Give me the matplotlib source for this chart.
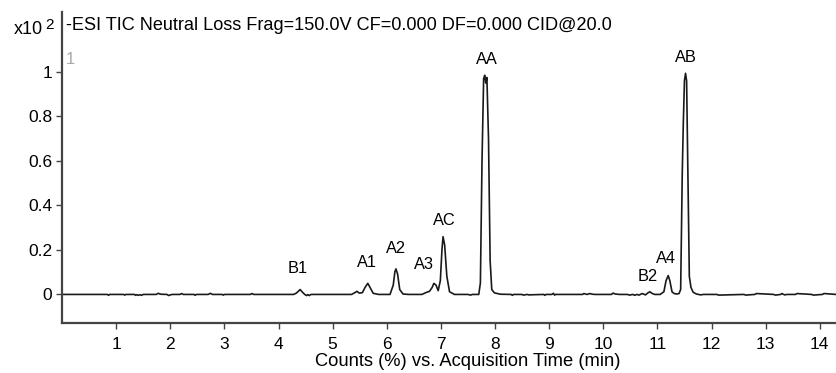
import matplotlib
matplotlib.use("Agg")
import matplotlib.pyplot as plt

plt.rcParams['font.family'] = ['Liberation Sans', 'DejaVu Sans']

# Chromatogram trace (time in min, counts x10^2)
times = [
    0.00, 0.84, 0.86, 0.88, 1.14, 1.16, 1.18, 1.34, 1.36, 1.38, 1.41, 1.44, 1.47, 1.50,
    1.74, 1.78, 1.82, 1.94, 1.97, 2.00, 2.04, 2.18, 2.21, 2.24, 2.44, 2.46, 2.48,
    2.70, 2.74, 2.78, 2.96, 2.98, 3.00, 3.48, 3.51, 3.54,
    4.28, 4.33, 4.40, 4.45, 4.49, 4.52, 4.54, 4.57, 4.59, 4.61,
    5.35, 5.41, 5.45, 5.49, 5.55, 5.60, 5.65, 5.70, 5.75, 5.85,
    6.06, 6.12, 6.15, 6.17, 6.20, 6.24, 6.30, 6.40,
    6.65, 6.74, 6.79, 6.84, 6.87, 6.91, 6.95, 6.99, 7.02, 7.04, 7.07, 7.11, 7.16, 7.25,
    7.50, 7.55, 7.58, 7.70, 7.73, 7.76, 7.79, 7.81, 7.83, 7.85, 7.88, 7.91, 7.94, 7.99, 8.10,
    8.30, 8.32, 8.34, 8.50, 8.52, 8.60, 8.62, 8.90, 8.92, 8.94, 9.05, 9.08, 9.10, 9.12,
    9.62, 9.64, 9.70, 9.75, 9.80, 9.85, 10.15, 10.18, 10.22, 10.30, 10.45, 10.48,
    10.55, 10.58, 10.62, 10.66, 10.72, 10.78, 10.82, 10.86, 10.90, 10.95,
    11.05, 11.12, 11.16, 11.20, 11.23, 11.27, 11.31, 11.36, 11.40,
    11.43, 11.46, 11.48, 11.50, 11.52, 11.54, 11.56, 11.59, 11.62, 11.66, 11.72, 11.80, 11.85,
    12.10, 12.13, 12.60, 12.63, 12.80, 12.83, 13.15, 13.18, 13.28, 13.30, 13.35, 13.40,
    13.55, 13.58, 13.85, 13.88, 14.05, 14.08, 14.30,
]
counts = [
    -0.002, -0.002, -0.006, -0.002, -0.002, -0.005, -0.002, -0.002, -0.006, -0.003, -0.006, -0.003, -0.006, -0.002,
    -0.002, 0.003, -0.001, -0.002, -0.007, -0.004, -0.002, -0.002, 0.002, -0.002, -0.002, -0.006, -0.002,
    -0.002, 0.003, -0.002, -0.002, -0.005, -0.002, -0.002, 0.002, -0.002,
    -0.002, 0.004, 0.020, 0.006, -0.003, -0.007, -0.003, -0.007, -0.003, -0.002,
    -0.002, 0.006, 0.012, 0.004, 0.006, 0.030, 0.048, 0.025, 0.003, -0.002,
    -0.002, 0.040, 0.100, 0.113, 0.090, 0.020, 0.000, -0.002,
    -0.002, 0.008, 0.012, 0.030, 0.048, 0.040, 0.015, 0.060, 0.200, 0.258, 0.220, 0.080, 0.010, -0.002,
    -0.002, -0.005, -0.002, -0.002, 0.050, 0.600, 0.970, 0.985, 0.950, 0.975, 0.700, 0.150, 0.020, 0.005, -0.001,
    -0.002, -0.006, -0.002, -0.002, -0.005, -0.002, -0.004, -0.002, -0.006, -0.002, -0.002, 0.003, -0.005, -0.002,
    -0.002, 0.002, -0.002, 0.002, -0.001, -0.002, -0.002, 0.004, 0.000, -0.002, -0.002, -0.005,
    -0.002, -0.006, -0.002, -0.005, 0.002, -0.004, 0.004, 0.010, 0.003, -0.002,
    -0.002, 0.010, 0.060, 0.083, 0.060, 0.010, 0.002, 0.000, 0.002,
    0.020, 0.550, 0.780, 0.960, 0.994, 0.960, 0.600, 0.080, 0.030, 0.008, 0.000, -0.004, -0.002,
    -0.002, -0.005, -0.002, -0.005, -0.002, 0.002, -0.002, -0.005, -0.002, 0.002, -0.004, -0.002,
    -0.002, 0.002, -0.002, -0.005, -0.002, 0.002, -0.002,
]

# Peak labels
peak_names = ["B1", "A1", "A2", "A3", "AC", "AA", "B2", "A4", "AB"]
peak_label_x = [4.36, 5.64, 6.17, 6.69, 7.06, 7.84, 10.83, 11.16, 11.53]
peak_label_y = [0.117, 0.140, 0.207, 0.135, 0.333, 1.054, 0.077, 0.162, 1.063]

xticks = list(range(1, 15))
yticks = [0, 0.2, 0.4, 0.6, 0.8, 1]
ytick_labels = ["0", "0.2", "0.4", "0.6", "0.8", "1"]

title = "-ESI TIC Neutral Loss Frag=150.0V CF=0.000 DF=0.000 CID@20.0"
xlabel = "Counts (%) vs. Acquisition Time (min)"

W, H = 836, 373
fig = plt.figure(figsize=(W / 100, H / 100), dpi=100)
ax = fig.add_axes([62 / W, (H - 323.3) / H, (W - 62) / W, (323.3 - 12) / H])

ax.plot(times, counts, color="#1a1a1a", lw=1.2)
ax.set_xlim(0, 14.3)
ax.set_ylim(-0.132, 1.27)

for n, x, y in zip(peak_names, peak_label_x, peak_label_y):
    ax.text(x, y, n, ha="center", va="center", fontsize=11.8)

ax.set_xticks(xticks)
ax.set_xticklabels([str(t) for t in xticks], fontsize=12.5)
ax.set_yticks(yticks)
ax.set_yticklabels(ytick_labels, fontsize=12.5)
ax.tick_params(axis="both", length=4, width=1, color="#444444", pad=3)
ax.tick_params(axis="x", pad=6)

for s in ["top", "right"]:
    ax.spines[s].set_visible(False)
for s in ["left", "bottom"]:
    ax.spines[s].set_color("#444444")
    ax.spines[s].set_linewidth(1.6)

ax.set_xlabel(xlabel, fontsize=13.2)
ax.xaxis.set_label_coords((468 - 62) / (W - 62), -(362 - 323.3) / (323.3 - 12), transform=ax.transAxes)
ax.xaxis.label.set_va("center")

fig.text(66 / W, 1 - 26 / H, title, fontsize=13.1, ha="left", va="center")
fig.text(28 / W, 1 - 29 / H, "x10", fontsize=13, ha="center", va="center")
fig.text(50 / W, 1 - 25 / H, "2", fontsize=11, ha="center", va="center")
fig.text(70 / W, 1 - 60 / H, "1", fontsize=12, ha="center", va="center", color="#aaaaaa")

fig.savefig("out.png", dpi=100)
